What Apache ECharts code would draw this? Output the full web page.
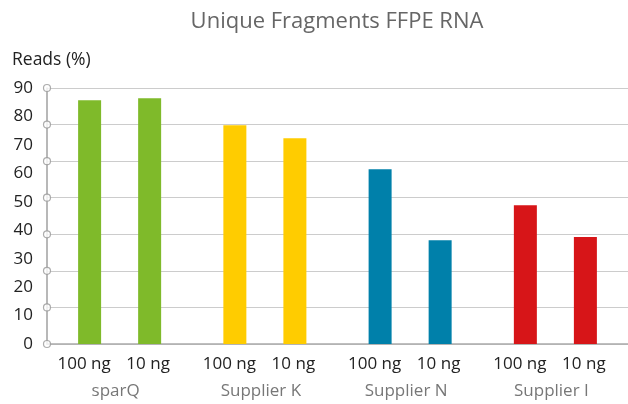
<!DOCTYPE html>
<html>
<head>
<meta charset="utf-8">
<script src="https://cdn.jsdelivr.net/npm/echarts@6/dist/echarts.min.js"></script>
<style>html,body{margin:0;padding:0;background:#fff}#c{width:628px;height:404px}</style>
</head>
<body>
<div id="c"></div>
<script>
const suppliers = ['sparQ', 'Supplier K', 'Supplier N', 'Supplier I'];
const inputLabels = ['100 ng', '10 ng'];
const values100ng = [85.7, 76.9, 61.4, 48.8];
const values10ng = [86.4, 72.3, 36.5, 37.6];
const supplierColors = ['#7fba2a', '#ffcc00', '#0080aa', '#d71518'];
const yTickLabels = [0, 10, 20, 30, 40, 50, 60, 70, 80, 90];
const gridDivisions = 7;

const FONT = '"Open Sans", "Noto Sans", sans-serif';
const chart = echarts.init(document.getElementById('c'), null, {renderer: 'canvas'});

const circleData = [];
for (let k = 0; k <= gridDivisions; k++) circleData.push([0, k]);

function mkBar(vals, name) {
  return {
    type: 'bar', name: name, xAxisIndex: 0, yAxisIndex: 1,
    barWidth: 23, barGap: '161%',
    data: vals.map((v, i) => ({value: v, itemStyle: {color: supplierColors[i]}}))
  };
}

chart.setOption({
  animation: false,
  title: [
    {text: 'Unique Fragments FFPE RNA', left: 332, textAlign: 'center', top: 6,
     textStyle: {fontFamily: FONT, fontSize: 22, fontWeight: 'normal', color: '#666'}},
    {text: 'Reads (%)', left: 7, top: 46,
     textStyle: {fontFamily: FONT, fontSize: 17.5, fontWeight: 'normal', color: '#222'}}
  ],
  grid: {left: 47, right: -3, top: 88, bottom: 60, containLabel: false},
  xAxis: [
    {type: 'category', data: suppliers,
     axisLine: {show: true, lineStyle: {color: '#aaa', width: 1.5}},
     axisTick: {show: false},
     axisLabel: {
       interval: 0, margin: 10, fontFamily: FONT,
       formatter: (v) => '{a|' + inputLabels[0] + '}{s|}{b|' + inputLabels[1] + '}{t|}\n{c|' + v + '}{u|}',
       rich: {
         a: {width: 60, align: 'center', fontSize: 17, color: '#222', lineHeight: 20, fontFamily: FONT},
         b: {width: 60, align: 'center', fontSize: 17, color: '#222', lineHeight: 20, fontFamily: FONT},
         s: {width: 4},
         t: {width: 7},
         c: {fontSize: 17, color: '#777', lineHeight: 34, fontFamily: FONT},
         u: {width: 8}
       }
     }},
    {type: 'value', min: 0, max: 1, show: false}
  ],
  yAxis: [
    {type: 'value', min: 0, max: gridDivisions, interval: 1,
     axisLine: {show: true, lineStyle: {color: '#a0a0a0', width: 1.5}},
     axisTick: {show: false}, axisLabel: {show: false},
     splitLine: {show: true, lineStyle: {color: '#cccccc', width: 1.2}}},
    {type: 'value', min: 0, max: 90, interval: 10, position: 'left',
     axisLine: {show: false}, axisTick: {show: false},
     splitLine: {show: false},
     axisLabel: {show: true, margin: 14, fontFamily: FONT, fontSize: 17, color: '#222',
       formatter: (v) => yTickLabels.indexOf(v) >= 0 ? String(v) : ''}}
  ],
  series: [
    mkBar(values100ng, inputLabels[0]),
    mkBar(values10ng, inputLabels[1]),
    {type: 'scatter', xAxisIndex: 1, yAxisIndex: 0, data: circleData, clip: false,
     symbol: 'circle', symbolSize: 7, z: 10, silent: true,
     itemStyle: {color: '#fff', borderColor: '#999', borderWidth: 1.2}}
  ]
});
</script>
</body>
</html>
